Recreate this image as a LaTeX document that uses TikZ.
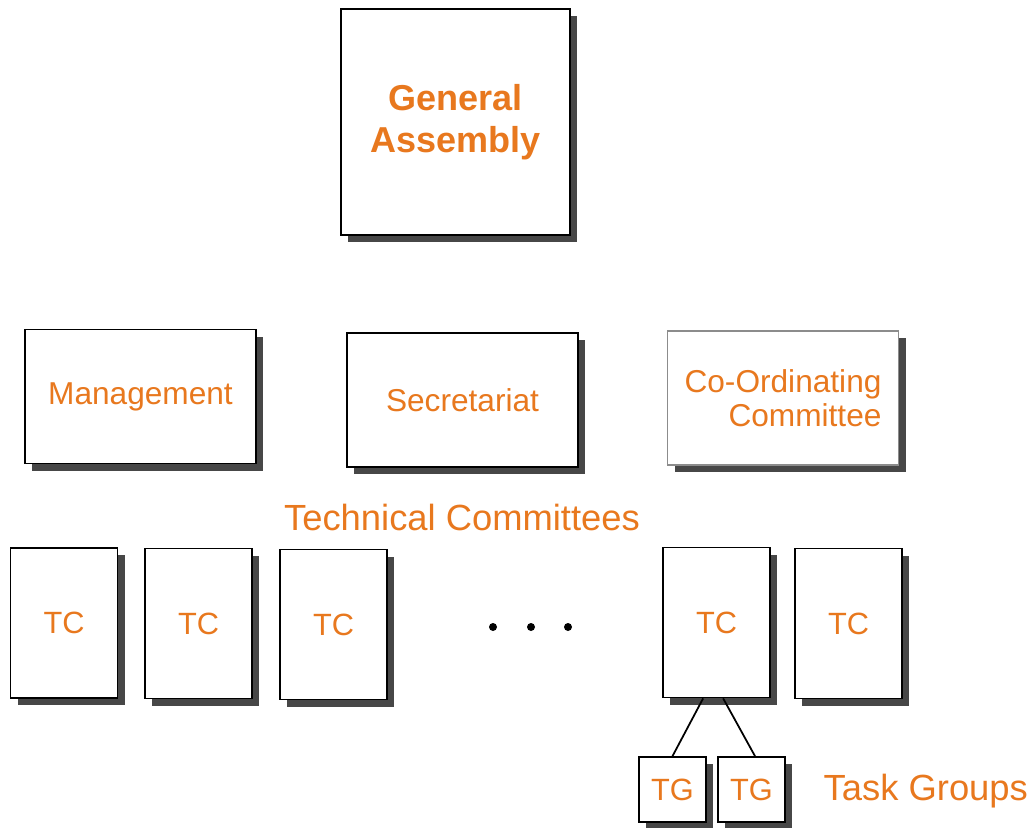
\documentclass[tikz,border=0pt]{standalone}
\usepackage{fontspec}
\setmainfont{Liberation Sans}
\usetikzlibrary{shadows}
\definecolor{orgorange}{RGB}{232,120,30}
\tikzset{
	orgbox/.style={draw=black, line width=1pt, fill=white, text=orgorange,
		drop shadow={shadow xshift=4pt, shadow yshift=-4pt, fill=black!72, opacity=1}},
	tcbox/.style={orgbox, minimum width=2.14cm, minimum height=3cm, font=\fontsize{17.5}{20}\selectfont},
	tgbox/.style={orgbox, minimum width=1.34cm, minimum height=1.3cm, font=\fontsize{17.5}{20}\selectfont},
	panel/.style={orgbox, minimum width=4.62cm, minimum height=2.68cm, font=\fontsize{18}{19.5}\selectfont},
	caption/.style={text=orgorange, font=\fontsize{20.7}{24}\selectfont}
}

\begin{document}
\begin{tikzpicture}
		%%%%% START %%%%%
		\useasboundingbox (0, 0) rectangle (20.7, -16.54);
		
		\node[orgbox, minimum width=4.58cm, minimum height=4.52cm, align=center,
			font=\fontsize{20.5}{24}\bfseries] (assembly) at (9.11, -2.44) {General\\Assembly};
		
		\node[panel] (management) at (2.81, -7.93) {Management};
		\node[panel] (secretariat) at (9.25, -8.0) {Secretariat};
		\node[panel, draw=black!45, line width=0.6pt, align=right] (coord) at (15.66, -7.96) {Co-Ordinating\\Committee};
		
		\node[caption] (tclabel) at (9.24, -10.34) {Technical Committees};
		
		\node[tcbox] (tc1) at (1.28, -12.46) {TC};
		\node[tcbox] (tc2) at (3.97, -12.47) {TC};
		\node[tcbox] (tc3) at (6.67, -12.49) {TC};
		\node[tcbox] (tc4) at (14.33, -12.45) {TC};
		\node[tcbox] (tc5) at (16.97, -12.47) {TC};
		
		\foreach \x in {9.86, 10.62, 11.36}
			\fill (\x, -12.54) circle (0.08);
		
		\node[tgbox] (tg1) at (13.45, -15.79) {TG};
		\node[tgbox] (tg2) at (15.03, -15.79) {TG};
		\draw[line width=1pt] (tc4.260) -- (tg1.north);
		\draw[line width=1pt] (tc4.275) -- ([xshift=0.07cm]tg2.north);
		
		\node[caption, anchor=west] (tglabel) at (16.35, -15.82) {Task Groups};
		
		%%%%% END %%%%%
	\end{tikzpicture}
\end{document}
